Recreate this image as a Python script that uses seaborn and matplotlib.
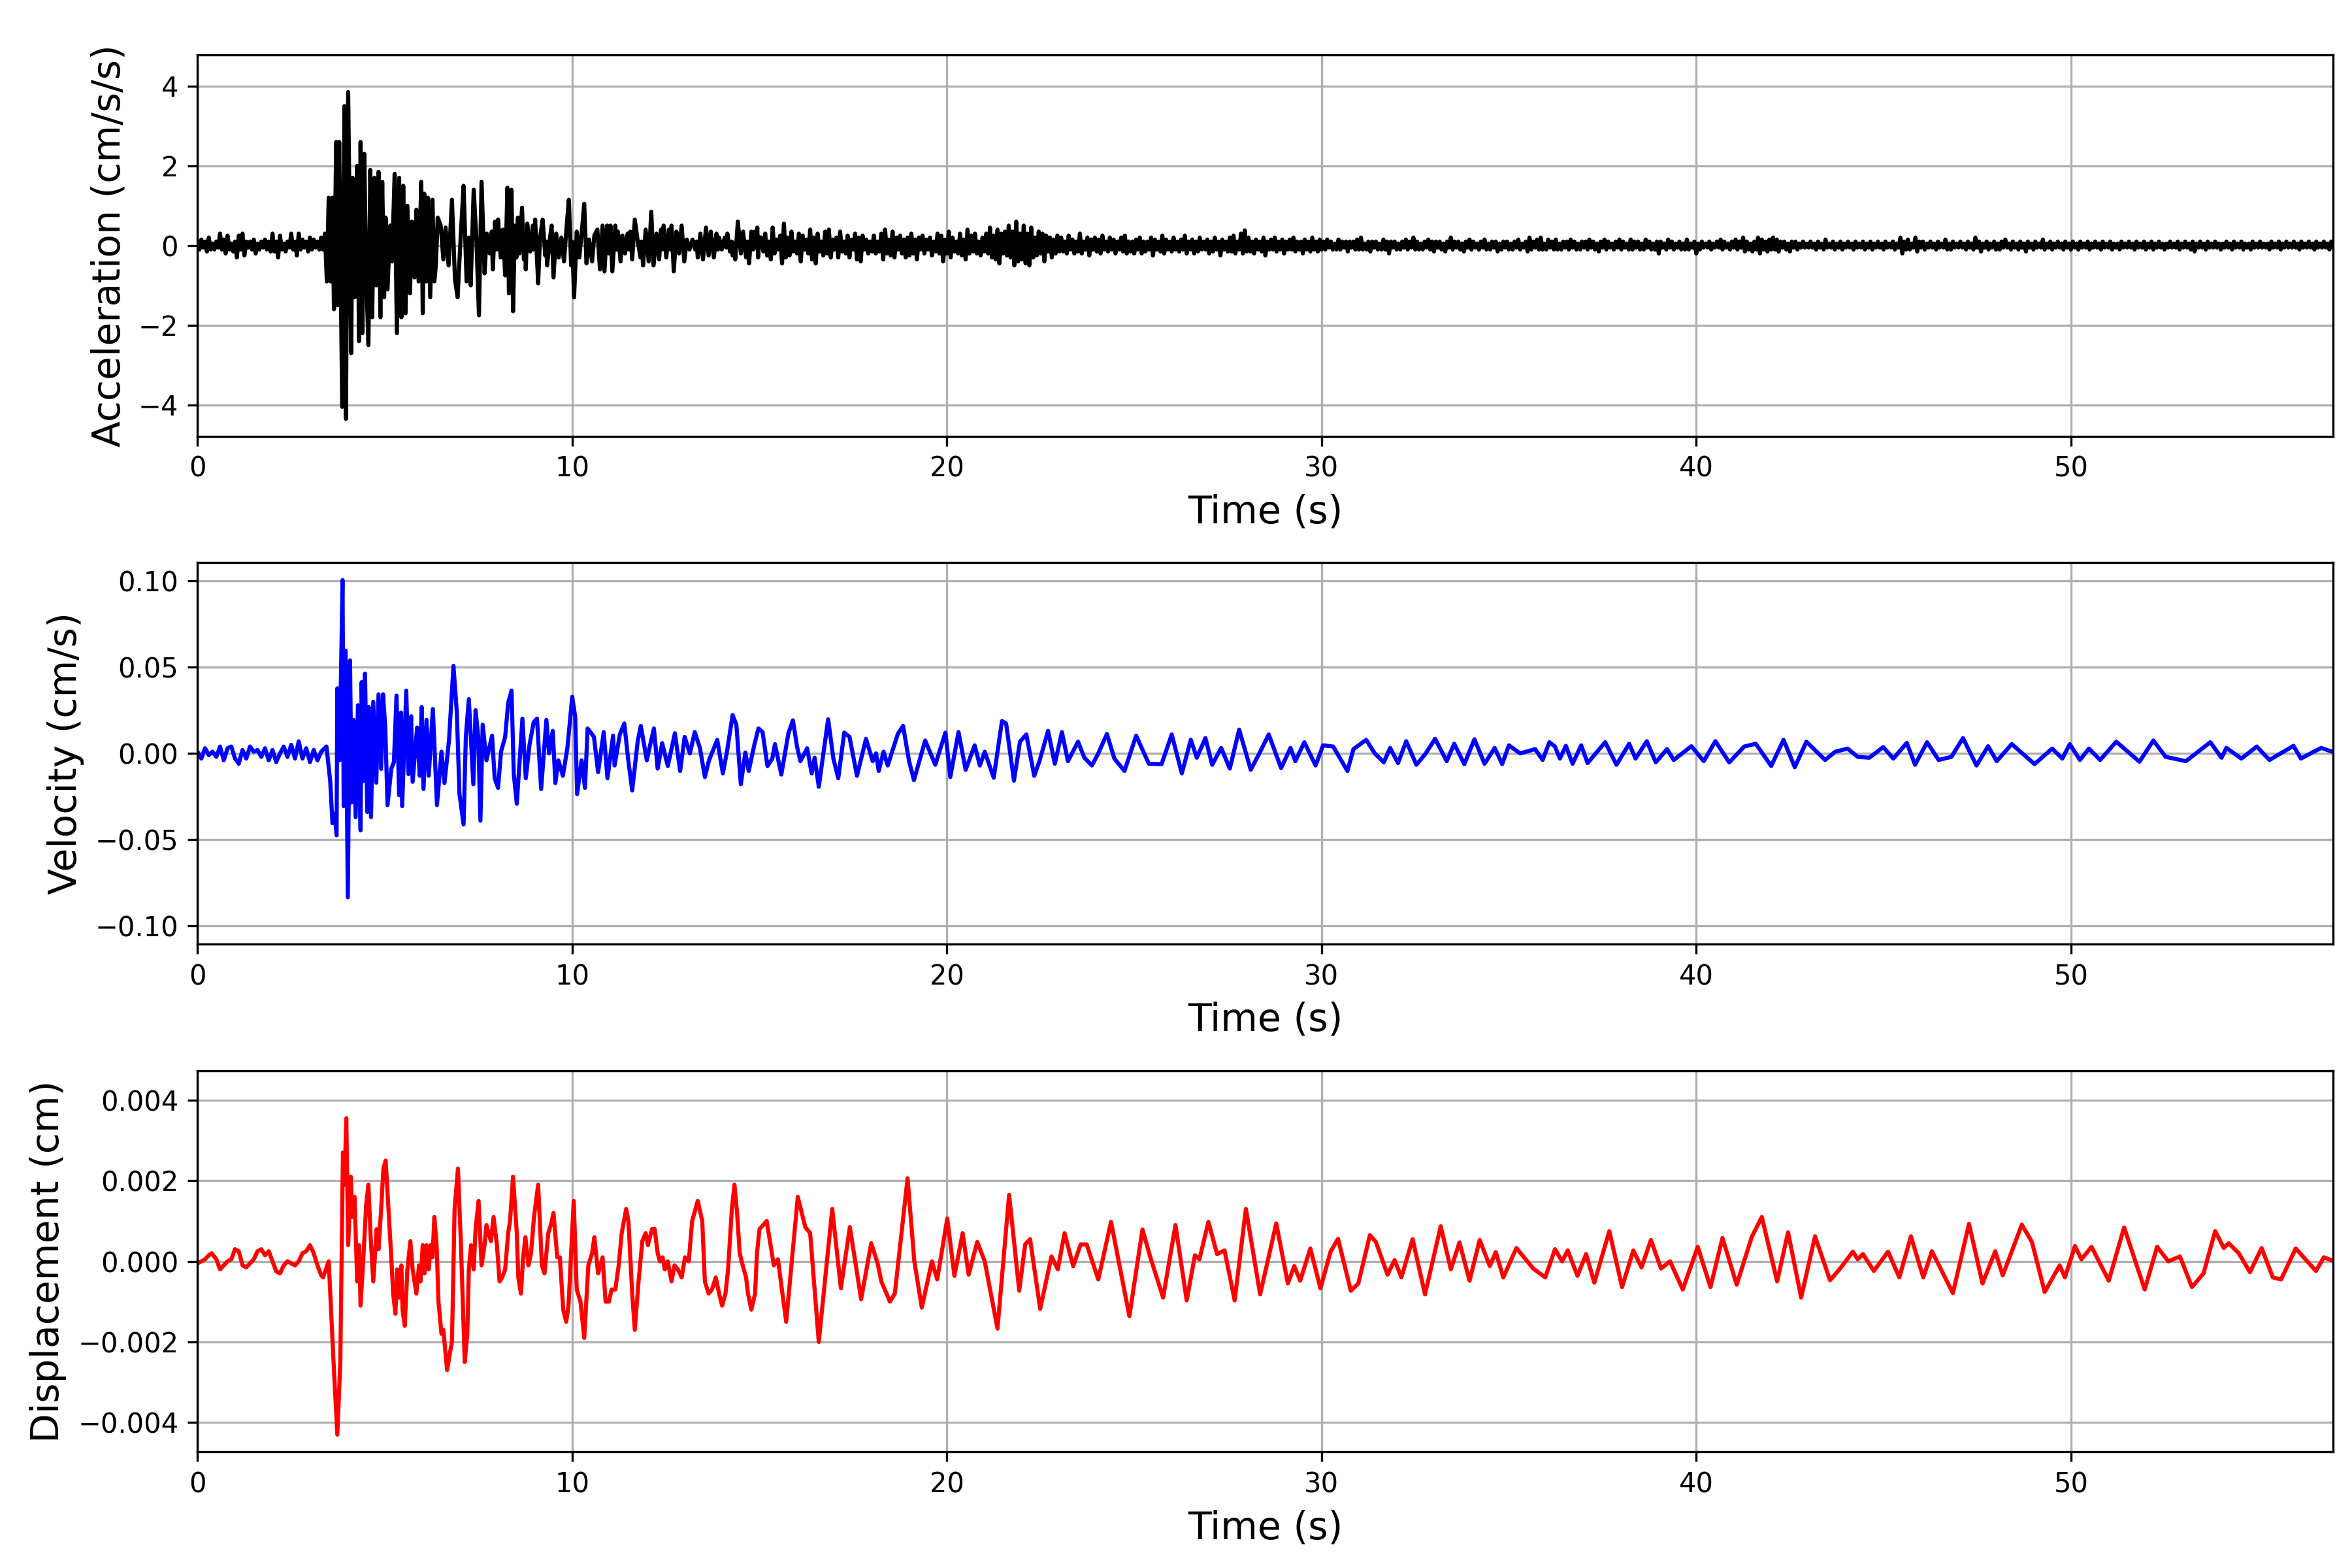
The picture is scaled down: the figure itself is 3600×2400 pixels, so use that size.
import numpy as np
import pandas as pd
import matplotlib
matplotlib.use("Agg")
import matplotlib.pyplot as plt
import seaborn as sns

# acceleration (cm/s/s) before the arrival, one value every 0.05 s (0.00 ... 3.35)
acc_pre = [
    0.1, -0.1, 0.15, -0.05, 0.1, -0.15, 0.2, -0.1, 0.05, -0.1, 0.1, -0.05, 0.3, -0.1, 0.15, -0.2, 0.25, -0.1, 0.05, -0.15,
    0.1, -0.3, 0.25, -0.1, 0.3, -0.25, 0.1, -0.05, 0.1, -0.1, 0.15, -0.2, 0.05, -0.1, 0.1, -0.05, 0.15, -0.1, 0.1, -0.15,
    0.3, -0.15, 0.1, -0.3, 0.25, -0.1, 0.05, -0.15, 0.1, -0.05, 0.3, -0.1, 0.1, -0.25, 0.3, -0.1, 0.15, -0.05, 0.1, -0.15,
    0.2, -0.1, 0.15, -0.05, 0.1, -0.1, 0.2, -0.1,
]

# acceleration (cm/s/s) in the strong part, 3.4-15 s, read as (time, value) pairs
acc_head = [
    (3.4, 0.3), (3.45, -0.9), (3.5, 1.2), (3.55, -0.9), (3.6, 1.2), (3.64, -1.6),
    (3.7, 2.6), (3.74, -1.5), (3.78, 2.6), (3.86, -4.05), (3.92, 3.5), (3.96, -4.35), (4.02, 3.85),
    (4.1, -2.7), (4.14, 1.7), (4.19, -1.3), (4.26, 2.0), (4.31, -2.4), (4.35, 2.6), (4.4, -2.2),
    (4.45, 2.3), (4.5, -0.7), (4.56, -2.5), (4.61, 1.9), (4.66, -1.8), (4.72, 1.7), (4.77, -1.0),
    (4.83, 1.85), (4.88, -1.8), (4.93, 1.6), (4.98, -1.3), (5.02, 0.7), (5.07, -1.1), (5.14, 0.5),
    (5.19, -0.4), (5.26, 1.8), (5.32, -2.2), (5.38, 1.7), (5.44, -1.8), (5.49, 1.5), (5.55, -1.7),
    (5.6, 1.0), (5.67, -1.2), (5.72, 0.6), (5.79, -0.8), (5.84, 0.9), (5.9, -0.9), (5.97, 1.6),
    (6.01, -1.7), (6.05, 1.3), (6.11, -0.9), (6.15, 1.2), (6.21, -1.3), (6.27, 1.15), (6.32, -0.9),
    (6.36, -0.5), (6.41, 0.7), (6.49, 0.5), (6.56, -0.35), (6.62, 0.45), (6.7, -0.5), (6.79, 1.15),
    (6.87, -0.85), (6.94, -1.3), (7.03, 0.35), (7.1, 1.5), (7.18, -0.9), (7.24, 0.2), (7.29, -1.0),
    (7.37, 1.4), (7.44, 0.2), (7.51, -1.75), (7.58, 1.6), (7.66, -0.7), (7.72, 0.3), (7.8, -0.2),
    (7.85, 0.35), (7.88, -0.6), (7.94, 0.6), (7.98, -0.1), (8.02, 0.65), (8.09, -0.3), (8.15, 0.4),
    (8.21, -0.75), (8.27, 1.45), (8.31, -1.2), (8.38, 1.4), (8.42, -1.65), (8.47, 0.5), (8.51, -0.3),
    (8.55, 0.7), (8.59, -0.2), (8.66, 0.95), (8.71, -0.35), (8.74, 0.2), (8.76, -0.6), (8.8, 0.55),
    (8.88, -0.15), (8.95, 0.5), (8.98, -0.1), (9.01, 0.65), (9.09, -0.95), (9.14, 0.2), (9.21, 0.65),
    (9.28, -0.25), (9.3, 0.1), (9.33, -0.5), (9.4, 0.15), (9.45, 0.5), (9.5, -0.8), (9.57, 0.3),
    (9.64, -0.3), (9.71, 0.2), (9.78, -0.4), (9.86, 0.6), (9.91, 1.15), (9.97, -0.5), (10.0, 0.1),
    (10.05, -1.3), (10.12, 0.35), (10.19, -0.3), (10.26, 0.4), (10.32, 1.05), (10.38, -0.45),
    (10.45, 0.15), (10.53, -0.4), (10.59, 0.25), (10.67, 0.4), (10.74, -0.6), (10.81, 0.5),
    (10.86, -0.65), (10.93, 0.5), (10.98, -0.2), (11.02, 0.5), (11.07, -0.65), (11.15, 0.5),
    (11.18, -0.1), (11.22, 0.35), (11.29, -0.4), (11.34, 0.25), (11.41, -0.2), (11.48, 0.3),
    (11.52, -0.1), (11.55, 0.35), (11.6, -0.35), (11.67, 0.65), (11.75, 0.1), (11.82, -0.3),
    (11.85, 0.1), (11.89, -0.5), (11.96, 0.4), (12.04, -0.4), (12.11, 0.85), (12.17, -0.5),
    (12.25, 0.3), (12.32, -0.35), (12.37, 0.4), (12.4, -0.1), (12.44, 0.5), (12.51, -0.3),
    (12.58, 0.4), (12.62, -0.1), (12.65, 0.5), (12.71, -0.65), (12.78, 0.35), (12.85, -0.2),
    (12.92, 0.5), (12.99, -0.4), (13.06, 0.15), (13.13, -0.1), (13.21, 0.15), (13.28, -0.1),
    (13.32, 0.1), (13.35, -0.3), (13.42, 0.3), (13.49, -0.35), (13.57, 0.45), (13.64, -0.25),
    (13.7, 0.35), (13.78, -0.3), (13.85, 0.3), (13.89, -0.1), (13.92, 0.2), (13.99, -0.1),
    (14.07, 0.2), (14.11, -0.05), (14.14, 0.3), (14.21, -0.15), (14.26, 0.1), (14.28, -0.25),
    (14.32, 0.05), (14.35, -0.35), (14.42, 0.6), (14.5, -0.2), (14.56, 0.35), (14.64, -0.3),
    (14.68, 0.1), (14.72, -0.45), (14.78, 0.35), (14.83, -0.1), (14.87, 0.35), (14.9, -0.05),
    (14.94, 0.45), (14.96, -0.3), (15.0, 0.2),
]

# acceleration (cm/s/s) after 15 s, one value every 0.05 s (15.05 ... 57.00), one row per second
acc_tail = [
    0.2, -0.15, 0.3, -0.25, 0.1, -0.35, 0.45, -0.2, 0.15, -0.1, 0.25, -0.45, 0.55, -0.3, 0.2, -0.25, 0.35, -0.15, 0.1, -0.2,
    0.3, -0.4, 0.25, -0.1, 0.15, -0.2, 0.4, -0.35, 0.2, -0.45, 0.3, -0.15, 0.1, -0.25, 0.35, -0.2, 0.4, -0.3, 0.15, -0.1,
    0.2, -0.3, 0.35, -0.15, 0.1, -0.2, 0.25, -0.3, 0.15, -0.1, 0.3, -0.35, 0.2, -0.4, 0.25, -0.1, 0.15, -0.2, 0.1, -0.15,
    0.25, -0.2, 0.1, -0.15, 0.3, -0.35, 0.4, -0.2, 0.15, -0.25, 0.35, -0.3, 0.2, -0.1, 0.25, -0.2, 0.15, -0.3, 0.2, -0.25,
    0.3, -0.2, 0.15, -0.35, 0.2, -0.1, 0.25, -0.2, 0.15, -0.1, 0.2, -0.25, 0.1, -0.15, 0.3, -0.2, 0.25, -0.4, 0.15, -0.2,
    0.35, -0.3, 0.2, -0.15, 0.1, -0.2, 0.3, -0.25, 0.15, -0.35, 0.4, -0.2, 0.25, -0.15, 0.3, -0.2, 0.1, -0.25, 0.2, -0.15,
    0.3, -0.2, 0.45, -0.3, 0.25, -0.35, 0.4, -0.45, 0.3, -0.2, 0.35, -0.25, 0.5, -0.3, 0.35, -0.5, 0.6, -0.4, 0.3, -0.35,
    0.5, -0.45, 0.3, -0.5, 0.45, -0.3, 0.2, -0.25, 0.35, -0.2, 0.3, -0.4, 0.25, -0.15, 0.2, -0.3, 0.15, -0.2, 0.25, -0.15,
    0.2, -0.15, 0.1, -0.2, 0.25, -0.1, 0.15, -0.2, 0.1, -0.15, 0.3, -0.2, 0.1, -0.1, 0.2, -0.25, 0.15, -0.1, 0.2, -0.15,
    0.15, -0.2, 0.25, -0.1, 0.1, -0.15, 0.2, -0.1, 0.15, -0.2, 0.1, -0.1, 0.2, -0.15, 0.25, -0.2, 0.1, -0.15, 0.1, -0.2,
    0.15, -0.1, 0.2, -0.2, 0.1, -0.15, 0.1, -0.1, 0.2, -0.25, 0.15, -0.1, 0.1, -0.15, 0.25, -0.2, 0.15, -0.1, 0.1, -0.15,
    0.2, -0.1, 0.1, -0.15, 0.15, -0.1, 0.25, -0.2, 0.1, -0.1, 0.15, -0.2, 0.1, -0.15, 0.2, -0.1, 0.1, -0.1, 0.15, -0.2,
    0.1, -0.15, 0.2, -0.1, 0.1, -0.25, 0.15, -0.1, 0.1, -0.15, 0.2, -0.15, 0.25, -0.2, 0.1, -0.1, 0.3, -0.2, 0.38, -0.15,
    0.2, -0.15, 0.1, -0.2, 0.15, -0.1, 0.1, -0.15, 0.2, -0.25, 0.1, -0.1, 0.15, -0.1, 0.2, -0.15, 0.1, -0.1, 0.15, -0.2,
    0.1, -0.1, 0.15, -0.1, 0.2, -0.15, 0.1, -0.1, 0.1, -0.2, 0.15, -0.1, 0.1, -0.15, 0.2, -0.1, 0.1, -0.15, 0.15, -0.1,
    0.1, -0.1, 0.15, -0.05, 0.1, -0.1, 0.05, -0.1, 0.15, -0.1, 0.1, -0.05, 0.1, -0.15, 0.1, -0.05, 0.1, -0.1, 0.15, -0.1,
    0.2, -0.1, 0.05, -0.1, 0.1, -0.15, 0.1, -0.05, 0.1, -0.1, 0.05, -0.1, 0.15, -0.1, 0.1, -0.2, 0.1, -0.05, 0.1, -0.1,
    0.05, -0.1, 0.1, -0.05, 0.15, -0.1, 0.1, -0.05, 0.2, -0.1, 0.1, -0.1, 0.05, -0.1, 0.1, -0.05, 0.15, -0.1, 0.1, -0.15,
    0.1, -0.05, 0.1, -0.1, 0.05, -0.15, 0.1, -0.05, 0.2, -0.1, 0.1, -0.05, 0.1, -0.1, 0.05, -0.15, 0.1, -0.05, 0.15, -0.1,
    0.1, -0.05, 0.05, -0.1, 0.1, -0.05, 0.15, -0.1, 0.05, -0.1, 0.1, -0.05, 0.1, -0.15, 0.05, -0.1, 0.1, -0.05, 0.1, -0.1,
    0.05, -0.1, 0.1, -0.05, 0.15, -0.1, 0.05, -0.05, 0.1, -0.15, 0.2, -0.1, 0.1, -0.05, 0.15, -0.1, 0.2, -0.1, 0.05, -0.1,
    0.15, -0.05, 0.1, -0.1, 0.15, -0.1, 0.05, -0.1, 0.1, -0.05, 0.1, -0.1, 0.15, -0.05, 0.1, -0.1, 0.05, -0.1, 0.1, -0.05,
    0.1, -0.1, 0.15, -0.05, 0.1, -0.1, 0.05, -0.15, 0.1, -0.05, 0.15, -0.1, 0.1, -0.05, 0.05, -0.1, 0.1, -0.05, 0.15, -0.1,
    0.1, -0.05, 0.05, -0.1, 0.15, -0.1, 0.1, -0.05, 0.1, -0.1, 0.05, -0.1, 0.15, -0.05, 0.1, -0.1, 0.05, -0.1, 0.1, -0.2,
    0.1, -0.05, 0.05, -0.1, 0.15, -0.05, 0.1, -0.1, 0.05, -0.05, 0.1, -0.1, 0.05, -0.1, 0.15, -0.1, 0.05, -0.05, 0.1, -0.2,
    0.05, -0.1, 0.1, -0.05, 0.05, -0.05, 0.1, -0.1, 0.05, -0.05, 0.1, -0.05, 0.15, -0.1, 0.1, -0.05, 0.05, -0.1, 0.1, -0.05,
    0.15, -0.1, 0.1, -0.05, 0.2, -0.15, 0.1, -0.1, 0.05, -0.15, 0.1, -0.1, 0.2, -0.2, 0.15, -0.1, 0.1, -0.15, 0.15, -0.1,
    0.2, -0.1, 0.15, -0.15, 0.1, -0.05, 0.1, -0.1, 0.05, -0.15, 0.1, -0.05, 0.1, -0.1, 0.05, -0.05, 0.1, -0.05, 0.05, -0.05,
    0.1, -0.05, 0.05, -0.1, 0.1, -0.05, 0.05, -0.1, 0.15, -0.05, 0.05, -0.05, 0.1, -0.1, 0.05, -0.05, 0.1, -0.1, 0.05, -0.05,
    0.1, -0.05, 0.05, -0.1, 0.1, -0.05, 0.05, -0.05, 0.1, -0.1, 0.05, -0.05, 0.1, -0.1, 0.05, -0.05, 0.1, -0.05, 0.05, -0.1,
    0.1, -0.05, 0.05, -0.05, 0.1, -0.1, 0.05, -0.05, 0.2, -0.2, 0.1, -0.1, 0.15, -0.1, 0.05, -0.05, 0.2, -0.15, 0.1, -0.05,
    0.1, -0.1, 0.05, -0.05, 0.1, -0.05, 0.05, -0.1, 0.1, -0.05, 0.05, -0.05, 0.15, -0.1, 0.05, -0.1, 0.1, -0.05, 0.05, -0.05,
    0.1, -0.05, 0.05, -0.1, 0.1, -0.05, 0.05, -0.1, 0.2, -0.05, 0.1, -0.15, 0.05, -0.05, 0.1, -0.1, 0.05, -0.05, 0.1, -0.1,
    0.05, -0.1, 0.1, -0.05, 0.15, -0.05, 0.05, -0.1, 0.1, -0.05, 0.05, -0.1, 0.1, -0.05, 0.05, -0.15, 0.1, -0.05, 0.05, -0.1,
    0.1, -0.05, 0.05, -0.05, 0.15, -0.1, 0.05, -0.05, 0.1, -0.1, 0.05, -0.05, 0.1, -0.05, 0.05, -0.1, 0.1, -0.05, 0.05, -0.1,
    0.1, -0.05, 0.05, -0.1, 0.1, -0.05, 0.05, -0.05, 0.1, -0.1, 0.05, -0.05, 0.1, -0.05, 0.05, -0.1, 0.1, -0.05, 0.05, -0.05,
    0.1, -0.1, 0.05, -0.05, 0.05, -0.1, 0.1, -0.05, 0.05, -0.05, 0.1, -0.05, 0.05, -0.1, 0.1, -0.05, 0.05, -0.05, 0.1, -0.1,
    0.05, -0.05, 0.1, -0.1, 0.05, -0.05, 0.1, -0.05, 0.05, -0.1, 0.05, -0.05, 0.1, -0.05, 0.05, -0.05, 0.1, -0.1, 0.05, -0.05,
    0.1, -0.05, 0.05, -0.1, 0.1, -0.15, 0.05, -0.05, 0.1, -0.05, 0.05, -0.1, 0.1, -0.05, 0.05, -0.05, 0.1, -0.05, 0.05, -0.1,
    0.05, -0.05, 0.1, -0.05, 0.05, -0.1, 0.1, -0.05, 0.05, -0.05, 0.1, -0.1, 0.05, -0.05, 0.05, -0.1, 0.1, -0.05, 0.05, -0.05,
    0.1, -0.05, 0.05, -0.05, 0.05, -0.1, 0.1, -0.05, 0.05, -0.05, 0.1, -0.1, 0.05, -0.05, 0.1, -0.05, 0.05, -0.05, 0.1, -0.05,
    0.05, -0.1, 0.1, -0.05, 0.05, -0.05, 0.1, -0.05, 0.05, -0.1, 0.1, -0.05, 0.05, -0.05, 0.1, -0.05, 0.05, -0.1, 0.1, -0.05,
]

# velocity, (time s, value in 0.01 cm/s)
vel_points = [
    (0.0, 0.1), (0.1, -0.3), (0.2, 0.3), (0.3, -0.1), (0.4, 0.1), (0.5, -0.2), (0.6, 0.4), (0.7, -0.4),
    (0.8, 0.3), (0.9, 0.4), (1.0, -0.3), (1.1, -0.6), (1.2, 0.2), (1.3, -0.3), (1.4, 0.4), (1.5, 0.1),
    (1.6, 0.2), (1.7, -0.2), (1.8, 0.3), (1.9, -0.4), (2.0, 0.2), (2.1, -0.5), (2.2, 0.0), (2.3, 0.4),
    (2.4, -0.2), (2.5, 0.5), (2.6, -0.3), (2.7, 0.7), (2.8, -0.3), (2.9, 0.3), (3.0, -0.5), (3.1, 0.2),
    (3.2, -0.4), (3.3, 0.1), (3.44, 0.4), (3.54, -1.6), (3.6, -4.05), (3.66, -3.5), (3.71, -4.75),
    (3.73, 3.78), (3.79, -0.4), (3.87, 10.06), (3.9, -3.06), (3.95, 5.97), (4.01, -8.35), (4.07, 5.4),
    (4.11, -2.85), (4.16, 1.95), (4.22, -3.7), (4.28, 2.8), (4.35, -4.47), (4.38, 4.14), (4.42, -1.6),
    (4.47, 4.63), (4.53, -3.4), (4.57, 2.7), (4.63, -3.7), (4.69, 3.0), (4.77, -1.7), (4.83, 3.43),
    (4.9, -0.9), (4.95, 3.43), (5.01, 1.5), (5.07, -3.0), (5.17, -0.9), (5.24, -0.5), (5.31, 3.36),
    (5.38, -2.43), (5.43, 2.37), (5.46, -3.06), (5.57, 3.64), (5.63, -1.2), (5.7, 2.16), (5.74, -1.65),
    (5.86, 1.5), (5.93, -1.3), (5.98, 2.7), (6.03, -2.07), (6.11, 1.95), (6.17, -1.3), (6.28, 2.58),
    (6.39, -3.0), (6.51, 0.1), (6.59, -1.72), (6.71, 0.75), (6.83, 5.08), (6.92, 2.37), (6.99, -2.36),
    (7.1, -4.12), (7.16, 0.96), (7.24, 3.15), (7.36, -1.79), (7.42, 2.51), (7.49, 1.0), (7.55, -3.9),
    (7.61, 1.67), (7.71, -0.4), (7.86, 1.03), (7.93, -1.44), (8.02, -2.0), (8.1, 0.1), (8.21, 0.96),
    (8.29, 2.94), (8.38, 3.64), (8.44, -1.2), (8.52, -2.92), (8.67, 2.02), (8.76, -1.44), (8.86, 0.5),
    (8.97, 1.8), (9.06, 2.02), (9.17, -2.07), (9.31, 1.95), (9.38, 0.0), (9.48, 1.31), (9.55, -1.72),
    (9.63, -0.4), (9.75, -1.3), (9.87, 0.3), (10.0, 3.29), (10.08, 2.1), (10.13, -2.36), (10.25, -0.4),
    (10.34, -2.0), (10.41, 1.45), (10.58, 0.96), (10.69, -1.09), (10.84, 1.24), (10.94, -1.44),
    (11.09, 1.03), (11.13, -0.7), (11.27, 1.1), (11.39, 1.74), (11.49, -0.3), (11.6, -2.15),
    (11.75, 0.75), (11.83, 1.6), (11.99, -0.4), (12.07, 0.4), (12.18, 1.45), (12.28, -0.88),
    (12.4, 0.6), (12.55, -0.73), (12.74, 1.17), (12.88, -1.02), (13.0, 0.96), (13.14, 0.0),
    (13.27, 1.24), (13.41, 0.3), (13.54, -1.37), (13.65, -0.4), (13.87, 0.79), (14.02, -1.16),
    (14.13, 0.1), (14.28, 2.23), (14.38, 1.67), (14.5, -1.79), (14.62, 0.05), (14.71, -1.02),
    (14.86, 0.5), (14.97, 1.45),
    (15.08, 1.24), (15.21, -0.73), (15.34, -0.3), (15.41, 0.54), (15.58, -1.23), (15.77, 1.17),
    (15.89, 1.92), (16.0, 0.4), (16.09, -0.45), (16.27, 0.3), (16.39, -1.16), (16.47, -0.25),
    (16.58, -1.93), (16.83, 1.98), (16.97, -0.3), (17.1, -1.44), (17.26, 1.21), (17.4, 0.96),
    (17.6, -1.3), (17.84, 0.85), (18.02, -0.45), (18.11, 0.0), (18.18, -1.02), (18.31, 0.1),
    (18.42, -0.7), (18.69, 1.13), (18.83, 1.6), (18.99, -0.45), (19.12, -1.55), (19.42, 0.75),
    (19.69, -0.66), (19.96, 1.21), (20.09, -1.37), (20.31, 1.24), (20.5, -0.95), (20.74, 0.47),
    (20.88, -0.7), (21.01, 0.1), (21.25, -1.41), (21.47, 1.88), (21.58, 1.74), (21.79, -1.58),
    (21.95, 0.68), (22.12, 1.1), (22.33, -1.3), (22.47, -0.45), (22.7, 1.31), (22.88, -0.6),
    (23.07, 1.24), (23.23, -0.45), (23.5, 0.68), (23.67, -0.25), (23.87, -0.7), (24.04, 0.0),
    (24.27, 1.13), (24.47, -0.3), (24.74, -1.02), (25.05, 1.03), (25.39, -0.6), (25.73, -0.62),
    (26.0, 1.1), (26.27, -1.16), (26.51, 0.79), (26.67, -0.25), (26.9, 0.89), (27.08, -0.66),
    (27.32, 0.32), (27.55, -0.88), (27.8, 1.38), (28.11, -0.95), (28.35, 0.05), (28.59, 1.1),
    (28.92, -0.85), (29.17, 0.32), (29.3, -0.45), (29.54, 0.65), (29.84, -0.7), (30.04, 0.47),
    (30.31, 0.4), (30.69, -1.02), (30.85, 0.25), (31.19, 0.79), (31.42, 0.0), (31.66, -0.52),
    (31.83, 0.32), (32.04, -0.56), (32.26, 0.71), (32.53, -0.66), (32.78, 0.0), (33.03, 0.85),
    (33.34, -0.45), (33.54, 0.56), (33.81, -0.62), (34.08, 0.82), (34.35, -0.6), (34.62, 0.32),
    (34.82, -0.62), (35.0, 0.47), (35.3, 0.0), (35.7, 0.25), (35.9, -0.38), (36.08, 0.65),
    (36.23, 0.4), (36.36, -0.3), (36.52, 0.44), (36.7, -0.6), (36.93, 0.47), (37.1, -0.56),
    (37.57, 0.65), (37.87, -0.66), (38.21, 0.56), (38.38, -0.3), (38.68, 0.71), (38.92, -0.52),
    (39.22, 0.25), (39.4, -0.38), (39.87, 0.42), (40.2, -0.45), (40.51, 0.71), (40.88, -0.52),
    (41.28, 0.4), (41.59, 0.56), (42.0, -0.73), (42.33, 0.79), (42.63, -0.8), (42.94, 0.68),
    (43.44, -0.38), (43.71, 0.1), (44.04, 0.28), (44.31, -0.2), (44.62, -0.25), (44.99, 0.37),
    (45.26, -0.3), (45.62, 0.61), (45.84, -0.66), (46.16, 0.65), (46.47, -0.38), (46.81, -0.2),
    (47.12, 0.89), (47.48, -0.7), (47.79, 0.42), (48.02, -0.45), (48.42, 0.54), (49.03, -0.62),
    (49.5, 0.28), (49.77, -0.3), (49.97, 0.54), (50.24, -0.38), (50.48, 0.28), (50.78, -0.38),
    (51.21, 0.68), (51.83, -0.48), (52.2, 0.75), (52.53, -0.2), (53.07, -0.45), (53.72, 0.65),
    (54.02, -0.25), (54.15, 0.32), (54.55, -0.3), (54.96, 0.4), (55.3, -0.38), (55.94, 0.44),
    (56.14, -0.3), (56.44, 0.05), (56.68, 0.32), (57.0, 0.08),
]

# displacement, (time s, value in 0.001 cm)
disp_points = [
    (0.0, -0.05), (0.1, 0.0), (0.2, 0.05), (0.3, 0.15), (0.38, 0.2), (0.5, 0.05), (0.6, -0.2),
    (0.7, -0.1), (0.8, 0.0), (0.9, 0.05), (1.0, 0.3), (1.1, 0.25), (1.2, -0.1), (1.3, -0.15),
    (1.4, -0.05), (1.5, 0.05), (1.6, 0.25), (1.7, 0.3), (1.8, 0.15), (1.9, 0.25), (2.0, 0.0),
    (2.1, -0.25), (2.2, -0.3), (2.3, -0.1), (2.4, 0.0), (2.5, -0.05), (2.6, -0.1), (2.7, 0.0),
    (2.8, 0.2), (2.9, 0.25), (3.0, 0.4), (3.1, 0.2), (3.2, -0.1), (3.3, -0.35), (3.35, -0.4),
    (3.5, 0.0), (3.64, -2.7), (3.73, -4.3), (3.81, -2.5), (3.88, 2.7), (3.92, 1.9), (3.97, 3.55),
    (4.02, 0.4), (4.09, 2.1), (4.13, 1.1), (4.19, 1.6), (4.26, -0.5), (4.31, 0.4), (4.35, -1.1),
    (4.42, 0.0), (4.5, 1.4), (4.56, 1.9), (4.62, 0.6), (4.69, -0.5), (4.78, 0.8), (4.83, 0.3),
    (4.9, 1.3), (4.96, 2.3), (5.02, 2.5), (5.17, 0.1), (5.22, -0.8), (5.28, -1.3), (5.33, -0.2),
    (5.38, -0.9), (5.44, -0.1), (5.47, -1.2), (5.53, -1.6), (5.6, -0.2), (5.68, 0.5), (5.74, -0.2),
    (5.84, -0.8), (5.91, -0.1), (5.95, -0.5), (6.01, 0.4), (6.06, -0.3), (6.11, 0.4), (6.17, -0.2),
    (6.22, 0.4), (6.27, 0.1), (6.32, 1.1), (6.38, 0.4), (6.43, -1.0), (6.51, -1.8), (6.56, -1.7),
    (6.66, -2.7), (6.75, -2.2), (6.79, -2.0), (6.86, 1.3), (6.95, 2.3), (7.03, 0.4), (7.13, -2.5),
    (7.2, -1.8), (7.24, -0.2), (7.3, 0.4), (7.37, -0.2), (7.42, 0.8), (7.5, 1.5), (7.58, -0.1),
    (7.66, 0.4), (7.71, 0.9), (7.83, 0.5), (7.9, 1.1), (7.99, 0.4), (8.06, -0.5), (8.13, -0.4),
    (8.21, -0.2), (8.29, 0.7), (8.34, 1.0), (8.42, 2.1), (8.52, 0.7), (8.56, -0.4), (8.63, -0.8),
    (8.69, 0.1), (8.75, 0.6), (8.83, -0.1), (8.9, 0.2), (8.98, 1.1), (9.09, 1.9), (9.19, -0.1),
    (9.26, -0.3), (9.36, 0.7), (9.43, 0.9), (9.5, 1.2), (9.6, 0.1), (9.67, 0.1), (9.76, -1.2),
    (9.84, -1.5), (9.9, -1.1), (10.04, 1.5), (10.12, -0.7), (10.22, -1.0), (10.32, -1.9),
    (10.43, -0.1), (10.53, 0.2), (10.59, 0.6), (10.69, -0.3), (10.75, -0.1), (10.81, 0.1),
    (10.89, -1.0), (10.98, -1.0), (11.05, -0.7), (11.15, -0.7), (11.24, -0.1), (11.32, 0.7),
    (11.44, 1.3), (11.5, 1.0), (11.6, -0.8), (11.67, -1.7), (11.77, -0.5), (11.87, 0.5),
    (11.96, 0.7), (12.02, 0.4), (12.13, 0.8), (12.2, 0.8), (12.28, 0.2), (12.34, 0.0), (12.41, 0.1),
    (12.47, -0.2), (12.55, 0.0), (12.65, -0.5), (12.73, -0.1), (12.82, -0.2), (12.92, -0.4),
    (13.01, 0.1), (13.11, 0.0), (13.2, 1.0), (13.35, 1.5), (13.47, 1.0), (13.54, -0.5),
    (13.64, -0.8), (13.73, -0.7), (13.83, -0.4), (13.92, -0.8), (14.0, -1.1), (14.09, -0.8),
    (14.16, -0.2), (14.26, 1.3), (14.33, 1.9), (14.4, 1.2), (14.47, 0.2), (14.55, -0.1),
    (14.64, -0.4), (14.69, -0.8), (14.78, -1.2), (14.88, -0.8), (14.93, 0.2), (15.0, 0.8),
    (15.19, 1.0), (15.38, -0.1), (15.49, 0.05), (15.71, -1.5), (16.02, 1.6), (16.22, 0.85),
    (16.35, 0.7), (16.41, 0.0), (16.58, -2.0), (16.94, 1.3), (17.17, -0.67), (17.41, 0.85),
    (17.71, -0.94), (17.98, 0.45), (18.15, -0.05), (18.25, -0.5), (18.48, -1.0), (18.61, -0.8),
    (18.95, 2.06), (19.13, 0.0), (19.33, -1.15), (19.6, 0.0), (19.74, -0.45), (20.01, 1.06),
    (20.2, -0.36), (20.42, 0.7), (20.58, -0.33), (20.81, 0.48), (21.01, 0.0), (21.35, -1.67),
    (21.66, 1.65), (21.93, -0.73), (22.09, 0.42), (22.22, 0.55), (22.49, -1.18), (22.79, 0.12),
    (22.96, -0.2), (23.14, 0.7), (23.37, -0.12), (23.57, 0.42), (23.73, 0.42), (24.04, -0.45),
    (24.38, 0.98), (24.87, -1.36), (25.22, 0.79), (25.43, 0.1), (25.77, -0.9), (26.1, 0.9),
    (26.4, -0.97), (26.62, 0.15), (26.74, 0.05), (26.98, 0.98), (27.21, 0.18), (27.41, 0.27),
    (27.68, -0.97), (27.98, 1.3), (28.36, -0.82), (28.79, 0.94), (29.1, -0.55), (29.27, -0.12),
    (29.43, -0.48), (29.7, 0.32), (29.97, -0.67), (30.24, 0.24), (30.44, 0.56), (30.78, -0.73),
    (30.98, -0.55), (31.29, 0.65), (31.45, 0.48), (31.76, -0.33), (31.95, 0.03), (32.13, -0.4),
    (32.43, 0.55), (32.76, -0.82), (33.18, 0.87), (33.45, -0.2), (33.68, 0.47), (33.95, -0.48),
    (34.22, 0.53), (34.49, -0.12), (34.65, 0.23), (34.85, -0.4), (35.2, 0.33), (35.65, -0.18),
    (35.97, -0.4), (36.23, 0.3), (36.42, 0.0), (36.57, 0.27), (36.83, -0.36), (37.06, 0.18),
    (37.28, -0.53), (37.68, 0.75), (38.02, -0.64), (38.32, 0.27), (38.54, -0.15), (38.79, 0.53),
    (39.06, -0.18), (39.3, 0.0), (39.64, -0.7), (40.04, 0.36), (40.38, -0.64), (40.7, 0.58),
    (41.08, -0.58), (41.48, 0.6), (41.75, 1.1), (42.16, -0.5), (42.45, 0.72), (42.8, -0.9),
    (43.17, 0.62), (43.57, -0.47), (43.84, -0.18), (44.18, 0.24), (44.31, 0.05), (44.45, 0.18),
    (44.74, -0.24), (45.12, 0.24), (45.42, -0.4), (45.73, 0.62), (46.06, -0.4), (46.29, 0.25),
    (46.85, -0.79), (47.28, 0.93), (47.64, -0.55), (47.98, 0.25), (48.18, -0.35), (48.69, 0.91),
    (48.96, 0.48), (49.3, -0.76), (49.7, -0.1), (49.84, -0.4), (50.11, 0.38), (50.28, 0.05),
    (50.55, 0.36), (51.01, -0.48), (51.42, 0.84), (51.97, -0.7), (52.3, 0.36), (52.6, 0.0),
    (52.91, 0.12), (53.23, -0.64), (53.54, -0.3), (53.85, 0.75), (54.08, 0.33), (54.21, 0.45),
    (54.48, 0.2), (54.78, -0.27), (55.09, 0.33), (55.39, -0.4), (55.61, -0.45), (56.0, 0.32),
    (56.31, 0.0), (56.54, -0.24), (56.75, 0.1), (57.0, 0.01),
]

t_end = 57.0

# build the three records
acc_t = ([round(0.05 * i, 2) for i in range(len(acc_pre))]
         + [p[0] for p in acc_head]
         + [round(15.0 + 0.05 * (i + 1), 2) for i in range(len(acc_tail))])
acc_v = acc_pre + [p[1] for p in acc_head] + acc_tail
acc = pd.DataFrame({"t": acc_t, "v": acc_v})
vel = pd.DataFrame({"t": [p[0] for p in vel_points], "v": [p[1] * 0.01 for p in vel_points]})
disp = pd.DataFrame({"t": [p[0] for p in disp_points], "v": [p[1] * 0.001 for p in disp_points]})

sns.set_style("ticks", rc={
    "axes.grid": True,
    "grid.color": "#b0b0b0",
    "grid.linewidth": 0.8,
    "axes.edgecolor": "black",
    "xtick.color": "black",
    "ytick.color": "black",
    "text.color": "black",
    "axes.labelcolor": "black",
})
plt.rcParams["font.family"] = ["DejaVu Sans"]

fig, axes = plt.subplots(3, 1, figsize=(12, 8), dpi=300)
panels = [
    (acc, "black", "Acceleration (cm/s/s)"),
    (vel, "blue", "Velocity (cm/s)"),
    (disp, "red", "Displacement (cm)"),
]
for ax, (d, col, lab) in zip(axes, panels):
    sns.lineplot(data=d, x="t", y="v", ax=ax, color=col, linewidth=1.5,
                 estimator=None, sort=False)
    lim = 1.1 * d["v"].abs().max()
    ax.set_ylim(-lim, lim)
    ax.set_xlim(0, t_end)
    ax.set_xlabel("Time (s)", fontsize=14)
    ax.set_ylabel(lab, fontsize=14)
    ax.tick_params(labelsize=10, length=3.5, width=0.8)
    for s in ax.spines.values():
        s.set_linewidth(0.8)

fig.subplots_adjust(left=0.084, right=0.992, top=0.965, bottom=0.074, hspace=0.332)
fig.savefig("out.png", dpi=300)
